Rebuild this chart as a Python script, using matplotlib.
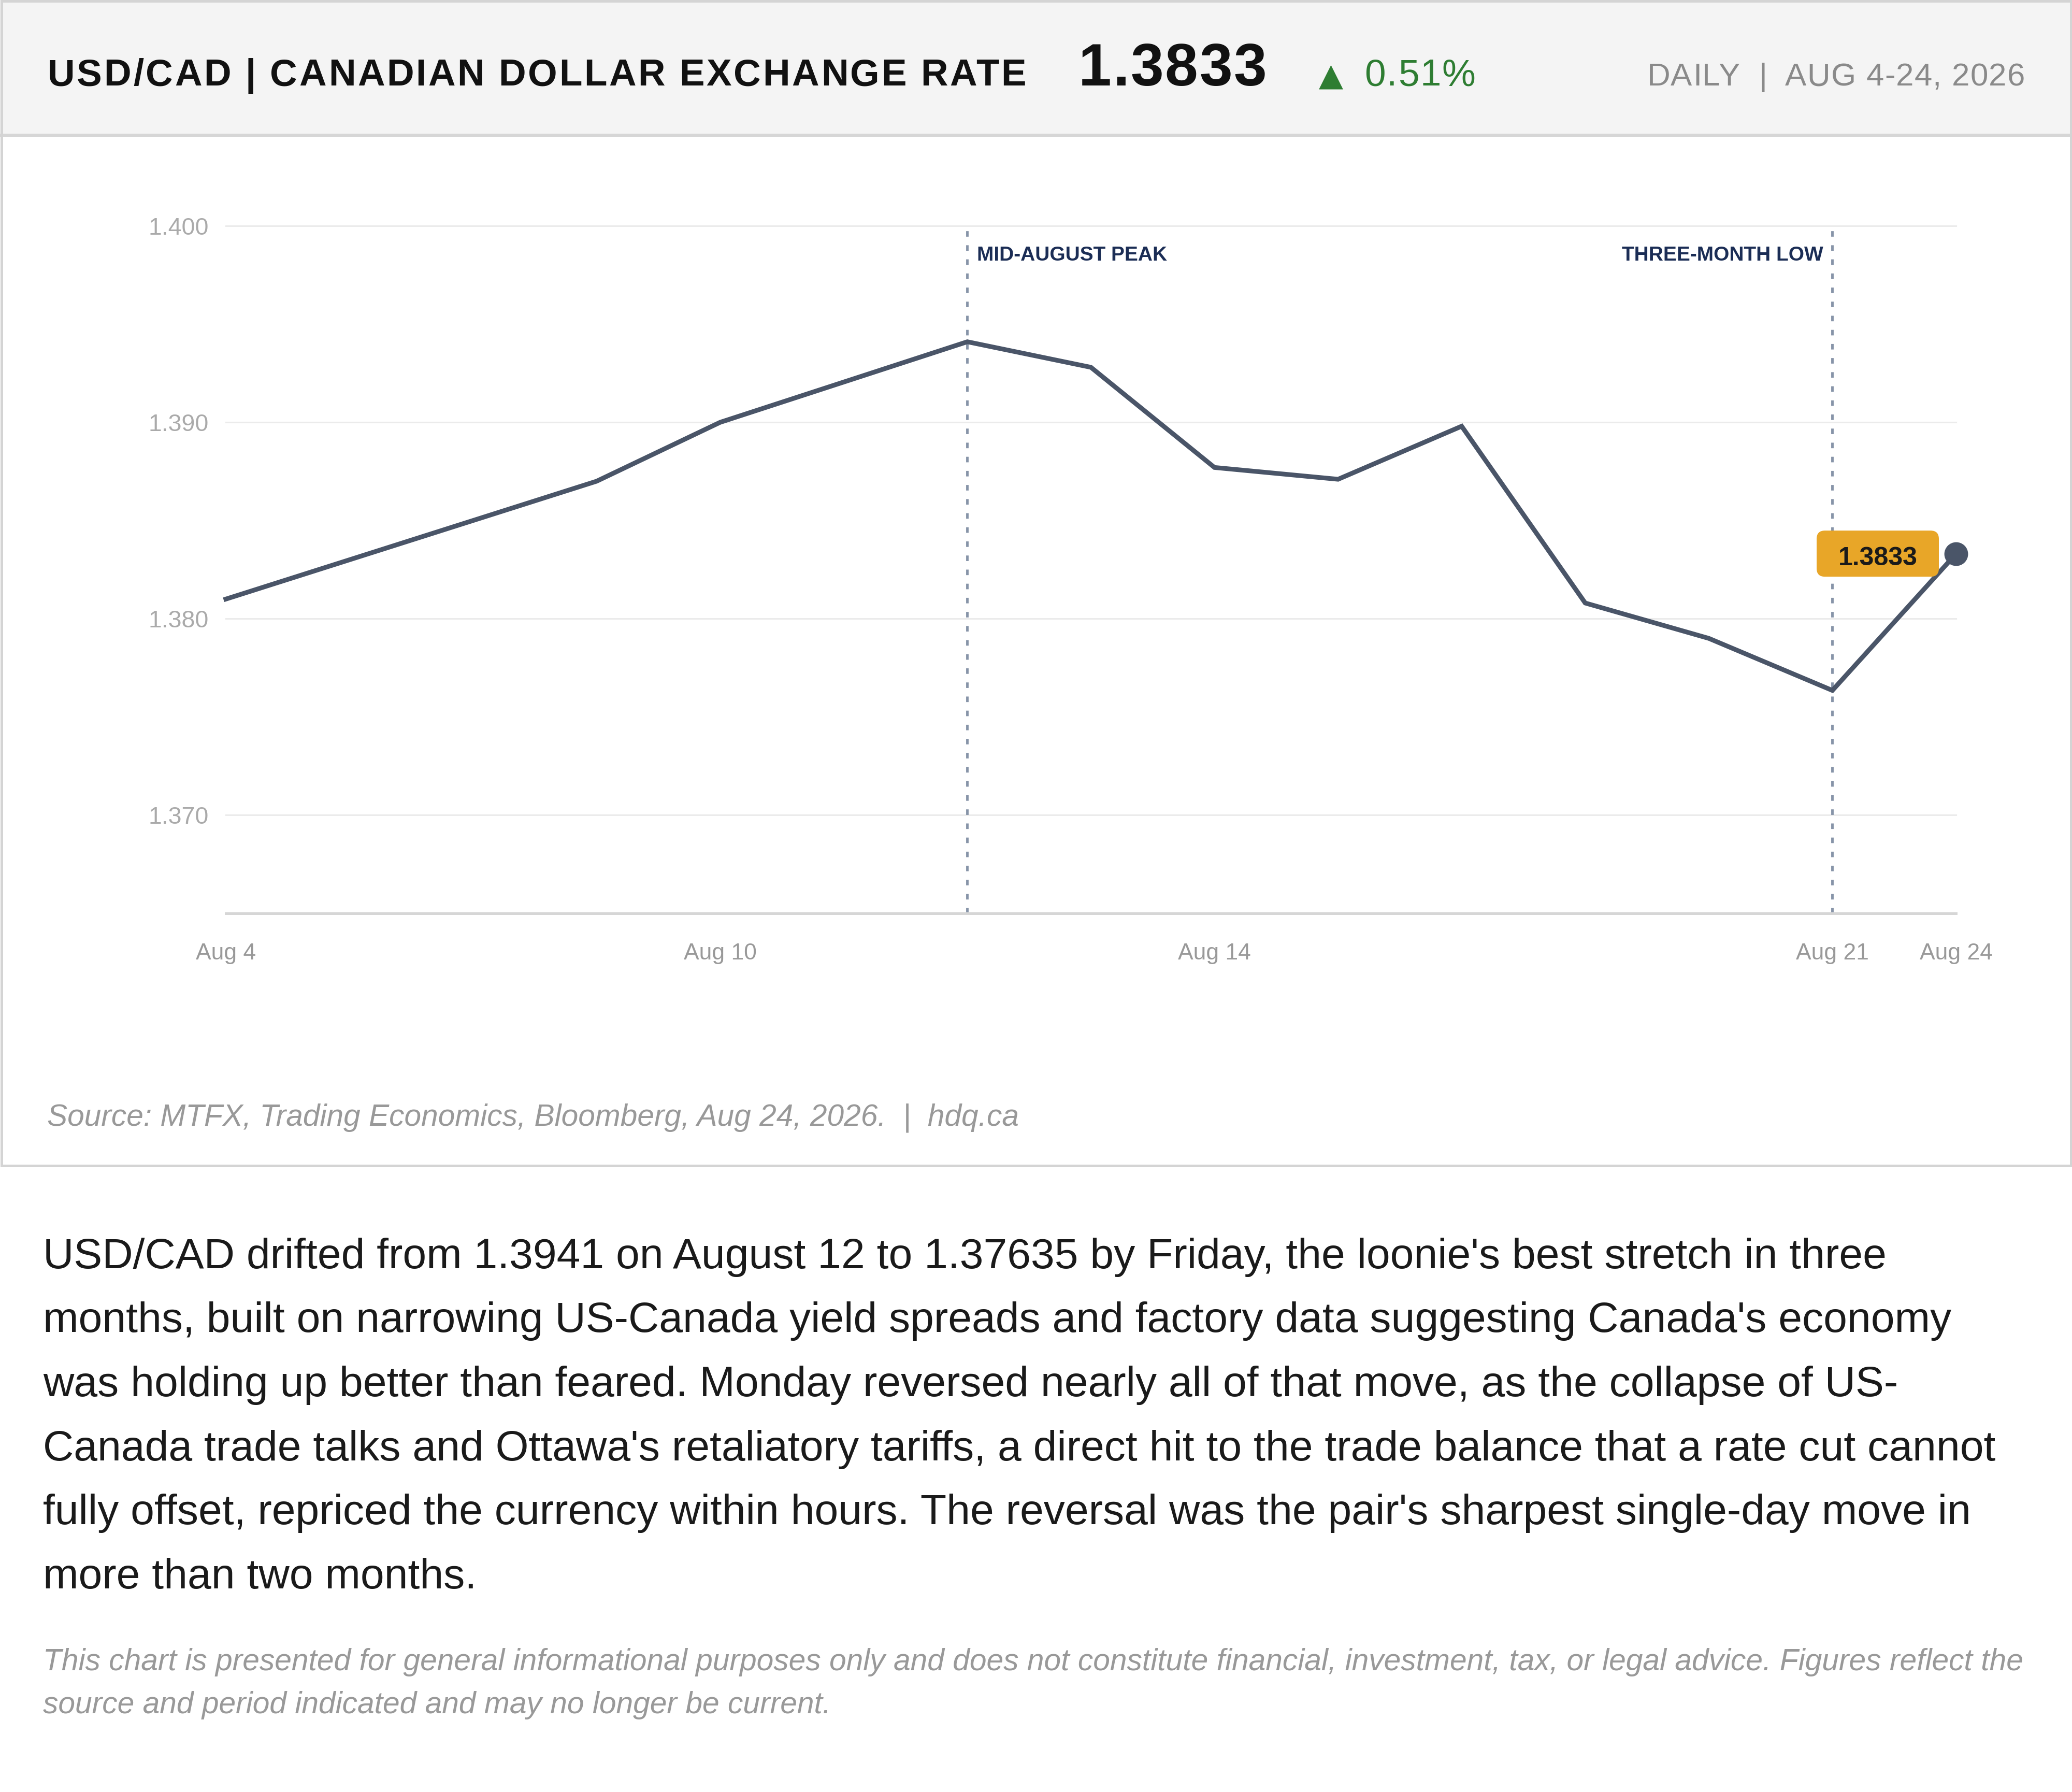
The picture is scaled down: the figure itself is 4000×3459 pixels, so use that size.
import matplotlib
matplotlib.use("Agg")
import matplotlib.pyplot as plt
import matplotlib.transforms as mtransforms
from matplotlib.patches import Rectangle, FancyBboxPatch
from matplotlib.lines import Line2D

plt.rcParams['font.family'] = ['Liberation Sans', 'DejaVu Sans']

# ---------------- data ----------------
dates = ['Aug 4', 'Aug 5', 'Aug 6', 'Aug 7', 'Aug 10', 'Aug 11', 'Aug 12', 'Aug 13',
         'Aug 14', 'Aug 17', 'Aug 18', 'Aug 19', 'Aug 20', 'Aug 21', 'Aug 24']
rates = [1.3810, 1.3830, 1.3850, 1.3870, 1.3900, 1.39205, 1.3941, 1.3928,
         1.3877, 1.3871, 1.3898, 1.3808, 1.3790, 1.37635, 1.3833]
tick_dates = ['Aug 4', 'Aug 10', 'Aug 14', 'Aug 21', 'Aug 24']
y_ticks = [1.370, 1.380, 1.390, 1.400]
y_tick_labels = ['1.370', '1.380', '1.390', '1.400']
y_range = [1.365, 1.400]
event_dates = ['Aug 12', 'Aug 21']
event_labels = ['MID-AUGUST PEAK', 'THREE-MONTH LOW']
last_label = '1.3833'
change_label = '0.51%'
title_text = 'USD/CAD | CANADIAN DOLLAR EXCHANGE RATE'
period_text = 'DAILY  |  AUG 4-24, 2026'
source_text = 'Source: MTFX, Trading Economics, Bloomberg, Aug 24, 2026.  |  hdq.ca'
paragraph = [
    "USD/CAD drifted from 1.3941 on August 12 to 1.37635 by Friday, the loonie's best stretch in three",
    "months, built on narrowing US-Canada yield spreads and factory data suggesting Canada's economy",
    "was holding up better than feared. Monday reversed nearly all of that move, as the collapse of US-",
    "Canada trade talks and Ottawa's retaliatory tariffs, a direct hit to the trade balance that a rate cut cannot",
    "fully offset, repriced the currency within hours. The reversal was the pair's sharpest single-day move in",
    "more than two months.",
]
disclaimer = [
    "This chart is presented for general informational purposes only and does not constitute financial, investment, tax, or legal advice. Figures reflect the",
    "source and period indicated and may no longer be current.",
]

# ---------------- layout ----------------
W, H = 4000, 3459
fig = plt.figure(figsize=(W / 100, H / 100), dpi=100)
fig.patch.set_facecolor('white')
renderer = fig.canvas.get_renderer()


def fx(px):
    return px / W


def fy(py):
    return 1 - py / H


def spaced_text(x_px, y_px, s, spacing, ha='left', **kw):
    """Draw text with extra letter spacing (pixels), baseline at y_px."""
    def w(sub):
        t = fig.text(0, 0, sub, **kw)
        width = t.get_window_extent(renderer).width
        t.remove()
        return width
    items = []
    for i, ch in enumerate(s):
        if ch == ' ':
            continue
        items.append((w(s[:i + 1]) - w(ch) + i * spacing, ch))
    total = w(s) + (len(s) - 1) * spacing
    start = x_px if ha == 'left' else x_px - total
    for pos, ch in items:
        fig.text(fx(start + pos), fy(y_px), ch, ha='left', va='baseline', **kw)


# card + header
fig.add_artist(Rectangle((0, fy(262)), 1, 262 / H, transform=fig.transFigure,
                         fc='#f4f4f4', ec='none', zorder=-2))
fig.add_artist(Line2D([0, 1], [fy(261), fy(261)], transform=fig.transFigure,
                      color='#d6d6d6', lw=4.3, zorder=-1))
fig.add_artist(Rectangle((fx(2.5), fy(2250)), 1 - 2 * fx(2.5), (2250 - 2.5) / H,
                         transform=fig.transFigure, fc='none', ec='#d4d4d4', lw=3.6, zorder=-1))

# header texts
spaced_text(92, 165, title_text, 3.6, fontsize=52.5, fontweight='bold', color='#111111')
spaced_text(2082, 165, last_label, 2.5, fontsize=82.5, fontweight='bold', color='#111111')
fig.text(fx(2546), fy(165), '\u25B2', fontsize=44, color='#2e7d32', ha='left', va='baseline',
         family=['DejaVu Sans'])
spaced_text(2634, 165, change_label, 2.0, fontsize=52.5, color='#2e7d32')
spaced_text(3909, 165, period_text, 1.2, ha='right', fontsize=44.6, color='#8a8a8a')

# ---------------- chart ----------------
ax = fig.add_axes([fx(436), fy(1763), (3776 - 436) / W, (1763 - 436) / H])
ax.set_facecolor('white')
xs = list(range(len(dates)))
ax.set_xlim(0, len(dates) - 1)
ax.set_ylim(*y_range)

ax.set_yticks(y_ticks)
ax.set_yticklabels(y_tick_labels)
ax.set_xticks([dates.index(d) for d in tick_dates])
ax.set_xticklabels(tick_dates)
ax.tick_params(axis='y', length=0, pad=24, labelsize=33.5, labelcolor='#aaaaaa')
ax.tick_params(axis='x', length=0, pad=41, labelsize=32, labelcolor='#999999')
ax.yaxis.grid(True, color='#ebebeb', lw=2.2, zorder=0)
ax.xaxis.grid(False)
for gl in ax.get_ygridlines():
    gl.set_clip_on(False)
ax.set_axisbelow(True)
for s in ['top', 'right', 'left']:
    ax.spines[s].set_visible(False)
ax.spines['bottom'].set_color('#d6d6d6')
ax.spines['bottom'].set_linewidth(3.6)

# event lines
for d, lab in zip(event_dates, event_labels):
    xi = dates.index(d)
    ax.axvline(xi, color='#8794a8', lw=3.5, dashes=(2.2, 3.4), zorder=2)
    if lab == event_labels[0]:
        ax.annotate(lab, xy=(xi, y_range[1]), xytext=(19, -67), textcoords='offset pixels',
                    ha='left', va='baseline', fontsize=28, fontweight='bold', color='#1b2d55')
    else:
        ax.annotate(lab, xy=(xi, y_range[1]), xytext=(-18, -67), textcoords='offset pixels',
                    ha='right', va='baseline', fontsize=28, fontweight='bold', color='#1b2d55')

# series
ax.plot(xs, rates, color='#4a5568', lw=6.5, solid_joinstyle='miter', zorder=3, clip_on=False)
ax.plot([xs[-1]], [rates[-1]], 'o', ms=32, color='#4a5568', zorder=5, clip_on=False)

# last value badge
trans = mtransforms.ScaledTranslation(xs[-1], rates[-1], ax.transData)
badge = FancyBboxPatch((-269, -44), 236, 89, boxstyle='round,pad=0,rounding_size=16',
                       transform=trans, fc='#e8a628', ec='none', zorder=4, clip_on=False)
ax.add_patch(badge)
ax.annotate(last_label, xy=(xs[-1], rates[-1]), xytext=(-151, -22), textcoords='offset pixels',
            ha='center', va='baseline', fontsize=36, fontweight='bold', color='#1a1a1a', zorder=6)

# source
fig.text(fx(91), fy(2172), source_text, fontsize=42.2, style='italic', color='#999999',
         ha='left', va='baseline')

# paragraph
for i, line in enumerate(paragraph):
    fig.text(fx(83), fy(2448 + i * 123.5), line, fontsize=59.2, color='#1a1a1a',
             ha='left', va='baseline')

for i, line in enumerate(disclaimer):
    fig.text(fx(83), fy(3224 + i * 83), line, fontsize=42.3, style='italic', color='#999999',
             ha='left', va='baseline')

fig.savefig('out.png', dpi=100, facecolor='white')
